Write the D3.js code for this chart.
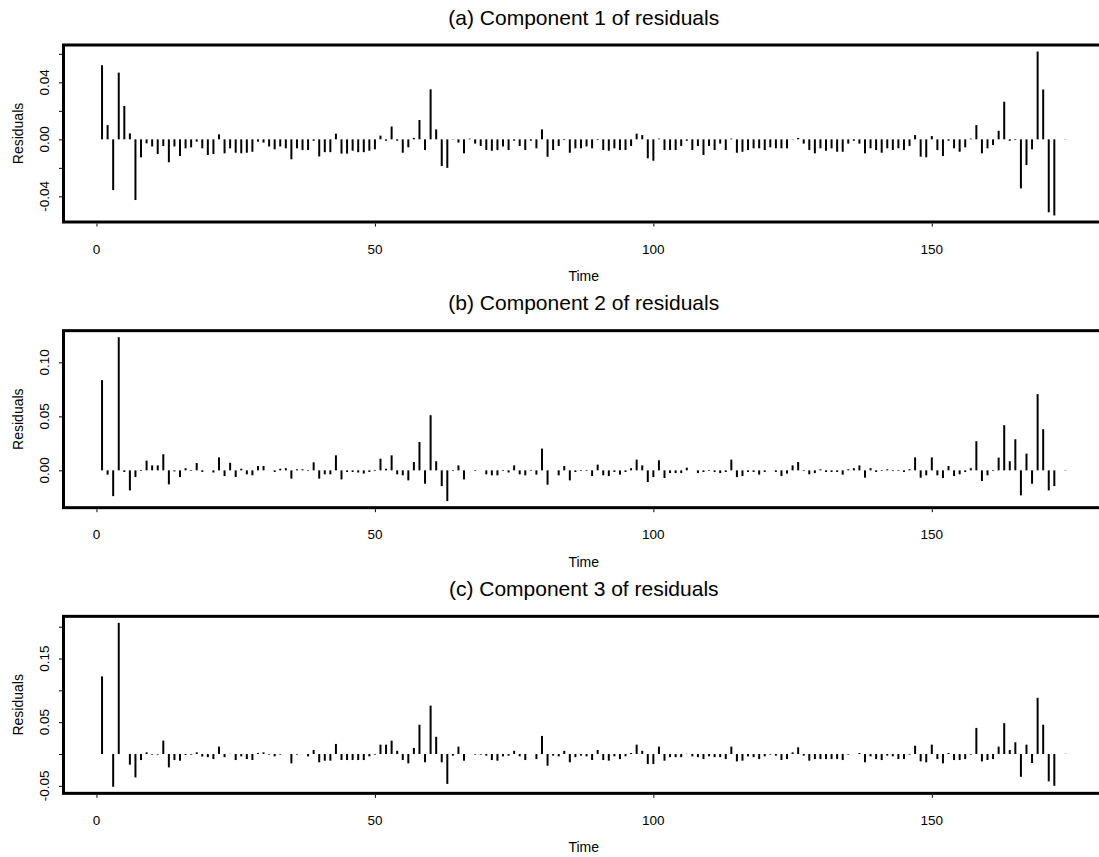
<!DOCTYPE html>
<html>
<head>
<meta charset="utf-8">
<script src="https://cdn.jsdelivr.net/npm/d3@7"></script>
<style>
  html, body { margin: 0; padding: 0; background: #fff; }
  svg { display: block; }
  text { font-family: "Liberation Sans", Arial, Helvetica, sans-serif; fill: #000; }
</style>
</head>
<body>
<svg id="chart" width="1099" height="857"></svg>
<script>
// ---- Data ----
const titles = ["(a) Component 1 of residuals", "(b) Component 2 of residuals", "(c) Component 3 of residuals"];
const xTicks = [0, 50, 100, 150];

const residA = [
  0.052, 0.010, -0.0356, 0.0468, 0.0234, 0.0042, -0.0426, -0.0126, -0.0028, -0.005,
  -0.0103, -0.0047, -0.0161, -0.005, -0.0117, -0.0063, -0.0056, -0.0016, -0.0063, -0.011,
  -0.0103, 0.0035, -0.0098, -0.0063, -0.0094, -0.0098, -0.0094, -0.0087, -0.0016, -0.0023,
  -0.005, -0.007, -0.005, -0.0063, -0.014, -0.0063, -0.0075, -0.0075, -0.001, -0.012,
  -0.009, -0.009, 0.004, -0.01, -0.01, -0.008, -0.009, -0.009, -0.008, -0.007,
  0.0026, -0.001, 0.009, -0.001, -0.0094, -0.0056, 0.001, 0.0136, -0.0075, 0.0351,
  0.007, -0.0187, -0.020, 0.0002, -0.0023, -0.0098, 0.0005, -0.003, -0.0047, -0.0075,
  -0.008, -0.0075, -0.005, -0.0075, -0.001, -0.0047, -0.0075, -0.001, -0.0063, 0.007,
  -0.0122, -0.0075, -0.0047, -0.0005, -0.0094, -0.0063, -0.0063, -0.005, -0.0063, -0.0005,
  -0.0075, -0.008, -0.0063, -0.0075, -0.0075, -0.0047, 0.004, 0.003, -0.0133, -0.015,
  0.0005, -0.0075, -0.0075, -0.0075, -0.0047, -0.001, -0.0075, -0.0047, -0.011, -0.0047,
  -0.0075, -0.003, -0.0075, 0.0005, -0.0094, -0.0087, -0.0075, -0.0063, -0.0063, -0.0075,
  -0.0056, -0.0063, -0.0063, -0.0063, 0.0002, 0.001, -0.003, -0.0075, -0.0098, -0.0063,
  -0.008, -0.0063, -0.0087, -0.0087, -0.003, -0.001, -0.003, -0.0098, -0.0063, -0.0075,
  -0.0094, -0.0063, -0.0075, -0.0063, -0.0075, -0.0047, 0.003, -0.0122, -0.0126, 0.0023,
  -0.0075, -0.0117, -0.001, -0.0063, -0.0087, -0.0056, 0.0005, 0.010, -0.0098, -0.0063,
  -0.004, 0.006, 0.0264, -0.001, -0.0005, -0.0344, -0.018, -0.007, 0.0616, 0.035,
  -0.0512, -0.0534, 0.0, 0.0002
];

const residB = [
  0.0836, -0.004, -0.0239, 0.1233, -0.0015, -0.0186, -0.0062, -0.0006, 0.009, 0.0046,
  0.0046, 0.0149, -0.013, -0.001, -0.0062, 0.002, -0.0006, 0.0068, -0.0015, 0.0,
  -0.002, 0.012, -0.0053, 0.007, -0.0062, 0.0015, -0.0037, -0.0046, 0.004, 0.004,
  0.0, -0.0015, 0.0015, 0.002, -0.0077, 0.001, 0.001, -0.0006, 0.0074, -0.0077,
  -0.0037, -0.0037, 0.0139, -0.0084, -0.0015, -0.0015, -0.002, -0.003, -0.0015, -0.0006,
  0.0108, 0.0015, 0.0139, -0.0037, -0.0046, -0.0093, 0.0077, 0.0263, -0.0124, 0.0511,
  0.0084, -0.0146, -0.0285, -0.0006, 0.0046, -0.0084, 0.0, -0.0006, 0.0, -0.0037,
  -0.0046, -0.0046, -0.0006, -0.002, 0.0046, -0.0037, -0.0046, -0.0006, -0.004, 0.0201,
  -0.0133, 0.0, -0.0046, 0.004, -0.0093, -0.0015, -0.0006, -0.0006, -0.0053, 0.0053,
  -0.0046, -0.0053, -0.0015, -0.004, -0.0015, 0.002, 0.0099, 0.0046, -0.0108, -0.0062,
  0.0093, -0.0071, -0.0025, -0.0025, -0.0025, 0.0025, 0.0, -0.0025, -0.0015, -0.0006,
  -0.0015, -0.0025, -0.0015, 0.0099, -0.0062, -0.0053, -0.0015, -0.0015, -0.004, -0.0015,
  0.0, -0.0015, -0.0053, -0.003, 0.0046, 0.0077, -0.0006, -0.0037, -0.0025, 0.001,
  -0.0015, -0.0015, -0.0015, -0.004, 0.001, 0.002, 0.0046, -0.0068, 0.002, -0.0015,
  -0.0006, 0.001, -0.0006, -0.0006, -0.0015, 0.001, 0.012, -0.0068, -0.0046, 0.012,
  -0.0046, -0.0071, 0.004, -0.0053, -0.0037, -0.0015, 0.002, 0.027, -0.0099, -0.0046,
  -0.0006, 0.0118, 0.0418, 0.0084, 0.0288, -0.0232, 0.0155, -0.0124, 0.0706, 0.0381,
  -0.0186, -0.0146, 0.0, 0.0003
];

const residC = [
  0.122, 0.0, -0.0515, 0.206, 0.0, -0.0168, -0.0368, -0.0095, 0.0026, -0.001,
  -0.001, 0.021, -0.021, -0.0095, -0.0105, -0.0016, -0.001, 0.0026, -0.004, -0.005,
  -0.008, 0.0116, -0.005, 0.0003, -0.0095, -0.0037, -0.008, -0.0095, 0.0016, 0.0026,
  -0.001, -0.0037, -0.001, 0.0, -0.0147, -0.001, 0.0, -0.0037, 0.0063, -0.013,
  -0.0105, -0.0105, 0.0158, -0.0095, -0.0095, -0.0095, -0.0095, -0.0095, -0.0037, -0.001,
  0.0147, 0.0147, 0.021, 0.005, -0.0095, -0.0147, 0.0095, 0.046, -0.013, 0.076,
  0.027, -0.013, -0.047, -0.0026, 0.0116, -0.0105, 0.0, -0.001, -0.001, -0.0026,
  -0.0095, -0.0105, -0.0037, -0.0026, 0.005, -0.0037, -0.0095, 0.0, -0.008, 0.0284,
  -0.0184, -0.0026, -0.0037, 0.005, -0.013, -0.005, -0.0026, -0.0037, -0.0095, 0.0063,
  -0.0095, -0.0105, -0.0037, -0.008, -0.0037, 0.0016, 0.0147, 0.005, -0.0158, -0.0158,
  0.0116, -0.0105, -0.005, -0.005, -0.005, 0.0003, -0.0037, -0.005, -0.008, -0.0037,
  -0.005, -0.005, -0.008, 0.0116, -0.0116, -0.0105, -0.0037, -0.005, -0.008, -0.0037,
  -0.001, -0.0026, -0.0095, -0.008, 0.0026, 0.0105, -0.0026, -0.0105, -0.008, -0.008,
  -0.008, -0.008, -0.008, -0.0095, -0.001, 0.0, 0.0016, -0.013, -0.0037, -0.008,
  -0.0095, -0.0026, -0.0037, -0.008, -0.008, -0.001, 0.013, -0.0116, -0.013, 0.0147,
  -0.008, -0.0147, 0.0016, -0.0095, -0.0095, -0.008, -0.001, 0.041, -0.0116, -0.0095,
  -0.008, 0.0116, 0.0484, 0.0063, 0.0184, -0.0358, 0.0147, -0.0142, 0.0883, 0.046,
  -0.043, -0.05, 0.0, 0.0003
];

const yTicksA = [-0.04, -0.02, 0.00, 0.02, 0.04, 0.06];
const yLabelsA = [-0.04, 0.00, 0.04];
const yTicksB = [0.00, 0.05, 0.10];
const yLabelsB = [0.00, 0.05, 0.10];
const yTicksC = [-0.05, 0.00, 0.05, 0.10, 0.15, 0.20];
const yLabelsC = [-0.05, 0.05, 0.15];

// ---- Layout ----
const W = 1099, H = 857;
const figH = H / 3;
const plotLeft = 63.5, plotRight = 1104;
const plotTopOff = 45, plotBotOff = 222;

const svg = d3.select("#chart");

const panels = [
  { values: residA, ticks: yTicksA, labels: yLabelsA },
  { values: residB, ticks: yTicksB, labels: yLabelsB },
  { values: residC, ticks: yTicksC, labels: yLabelsC }
];

const n = residA.length;
const times = d3.range(1, n + 1);
const xr = (n - 1) * 0.04;
const x = d3.scaleLinear().domain([1 - xr, n + xr]).range([plotLeft, plotRight]);

panels.forEach((p, i) => {
  const top = i * figH + plotTopOff;
  const bot = i * figH + plotBotOff;
  const [mn, mx] = d3.extent(p.values);
  const r = (mx - mn) * 0.04;
  const y = d3.scaleLinear().domain([mn - r, mx + r]).range([bot, top]);
  const g = svg.append("g");

  const cx = (plotLeft + plotRight) / 2;
  g.append("text")
    .attr("x", cx).attr("y", top - 28)
    .attr("text-anchor", "middle").attr("dominant-baseline", "central")
    .style("font-size", "21px")
    .text(titles[i]);

  g.selectAll("line.spike").data(p.values).enter().append("line")
    .attr("class", "spike")
    .attr("x1", (d, k) => x(times[k])).attr("x2", (d, k) => x(times[k]))
    .attr("y1", y(0)).attr("y2", d => y(d))
    .attr("stroke", "#000").attr("stroke-width", 2);

  const fmtY = d3.format(".2f");
  const yAxis = d3.axisLeft(y).tickValues(p.ticks).tickSize(3).tickPadding(0)
    .tickFormat(() => "");
  const ya = g.append("g").attr("transform", `translate(${plotLeft - 1.5},0)`).call(yAxis);
  ya.select(".domain").remove();
  ya.selectAll(".tick line").attr("stroke", "#000").attr("stroke-width", 1);
  p.labels.forEach(v => {
    g.append("text")
      .attr("transform", `translate(44,${y(v)}) rotate(-90)`)
      .attr("text-anchor", "middle").attr("dominant-baseline", "central")
      .style("font-size", "13.5px")
      .text(fmtY(v).replace("\u2212", "-"));
  });

  const xAxis = d3.axisBottom(x).tickValues(xTicks).tickSize(3).tickFormat("");
  const xa = g.append("g").attr("transform", `translate(0,${bot + 1.5})`).call(xAxis);
  xa.select(".domain").remove();
  xa.selectAll(".tick line").attr("stroke", "#000").attr("stroke-width", 1);
  xTicks.forEach(v => {
    g.append("text")
      .attr("x", x(v)).attr("y", bot + 27)
      .attr("text-anchor", "middle").attr("dominant-baseline", "central")
      .style("font-size", "13.5px")
      .text(v);
  });

  g.append("text")
    .attr("x", cx).attr("y", bot + 54)
    .attr("text-anchor", "middle").attr("dominant-baseline", "central")
    .style("font-size", "14px")
    .text("Time");
  g.append("text")
    .attr("transform", `translate(18,${(top + bot) / 2}) rotate(-90)`)
    .attr("text-anchor", "middle").attr("dominant-baseline", "central")
    .style("font-size", "14px")
    .text("Residuals");

  g.append("rect")
    .attr("x", plotLeft).attr("y", top)
    .attr("width", plotRight - plotLeft).attr("height", bot - top)
    .attr("fill", "none").attr("stroke", "#000").attr("stroke-width", 3);
});
</script>
</body>
</html>
